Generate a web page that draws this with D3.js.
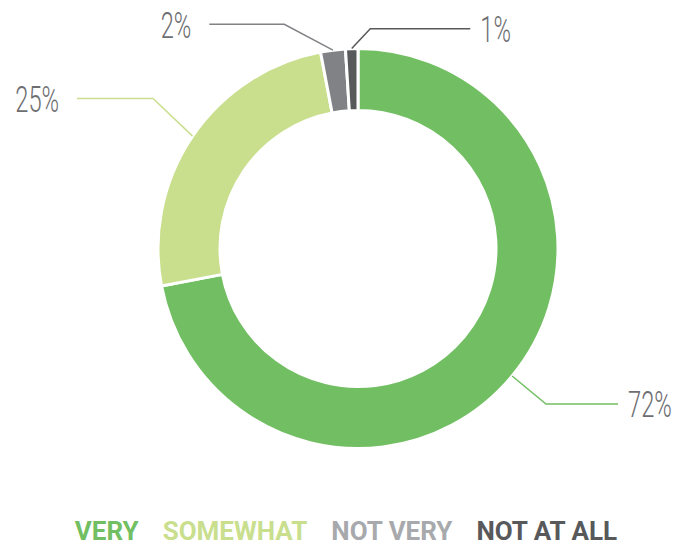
<!DOCTYPE html>
<html lang="en">
<head>
  <meta charset="UTF-8">
  <title>Donut chart</title>
  <script src="https://d3js.org/d3.v7.min.js"></script>
  <style>
    body { margin: 0; background: #fff; }
  </style>
</head>
<body>
<div id="chart"></div>
<script>
// data
var categories = ["VERY", "SOMEWHAT", "NOT VERY", "NOT AT ALL"];
var values = [72, 25, 2, 1];
var labels = ["72%", "25%", "2%", "1%"];
var sliceColors = ["#72bf63", "#c9df8e", "#808285", "#58595b"];
var legendColors = ["#72bf63", "#c9df8e", "#a7a9ac", "#58595b"];

var width = 686, height = 546;
var cx = 358, cy = 248.5, outerR = 200, innerR = 138;

// leader elbow tweaks (angle shift in degrees, radius, horizontal length)
var leader = [
  {da: 0, r: 244, len: 72},
  {da: 2, r: 254, len: 76},
  {da: -11, r: 236, len: 75},
  {da: 5, r: 220, len: 100}
];

var svg = d3.select("#chart")
  .append("svg")
  .attr("width", width)
  .attr("height", height);

var g = svg.append("g")
  .attr("transform", "translate(" + cx + "," + cy + ")");

var pie = d3.pie().sort(null).value(function(d) { return d; });
var arcs = pie(values);

var arc = d3.arc().innerRadius(innerR).outerRadius(outerR);

g.selectAll(".slice")
  .data(arcs)
  .enter().append("path")
  .attr("class", "slice")
  .attr("d", arc)
  .attr("fill", function(d, i) { return sliceColors[i]; })
  .attr("stroke", "#fff")
  .attr("stroke-width", 3);

function polar(a, r) { return [r * Math.sin(a), -r * Math.cos(a)]; }

arcs.forEach(function(d, i) {
  var mid = (d.startAngle + d.endAngle) / 2;
  var p0 = polar(mid, outerR);
  var p1 = polar(mid + leader[i].da * Math.PI / 180, leader[i].r);
  var right = p1[0] > 0;
  var p2 = [p1[0] + (right ? leader[i].len : -leader[i].len), p1[1]];

  g.append("path")
    .attr("d", d3.line()([p0, p1, p2]))
    .attr("fill", "none")
    .attr("stroke", sliceColors[i])
    .attr("stroke-width", 1.5);

  var tx = p2[0] + (right ? 10 : -18);
  g.append("text")
    .attr("transform", "translate(" + tx + "," + p2[1] + ") scale(0.64,1)")
    .attr("dy", "0.36em")
    .attr("text-anchor", right ? "start" : "end")
    .style("font-family", "Roboto, 'Liberation Sans', sans-serif")
    .style("font-weight", 300)
    .style("font-size", "37px")
    .attr("fill", "#6d6e71")
    .text(labels[i]);
});

// legend
var legend = svg.append("g").attr("transform", "translate(0,540)");
var items = legend.selectAll("text")
  .data(categories)
  .enter().append("text")
  .style("font-family", "Roboto, 'Liberation Sans', sans-serif")
  .style("font-weight", 700)
  .style("font-size", "26px")
  .attr("fill", function(d, i) { return legendColors[i]; })
  .text(function(d) { return d; });

var gap = 24, widths = [];
items.each(function() { widths.push(this.getComputedTextLength()); });
var total = d3.sum(widths) + gap * (widths.length - 1);
var x0 = 346 - total / 2;
items.attr("x", function(d, i) {
  var x = x0;
  x0 += widths[i] + gap;
  return x;
});
</script>
</body>
</html>
